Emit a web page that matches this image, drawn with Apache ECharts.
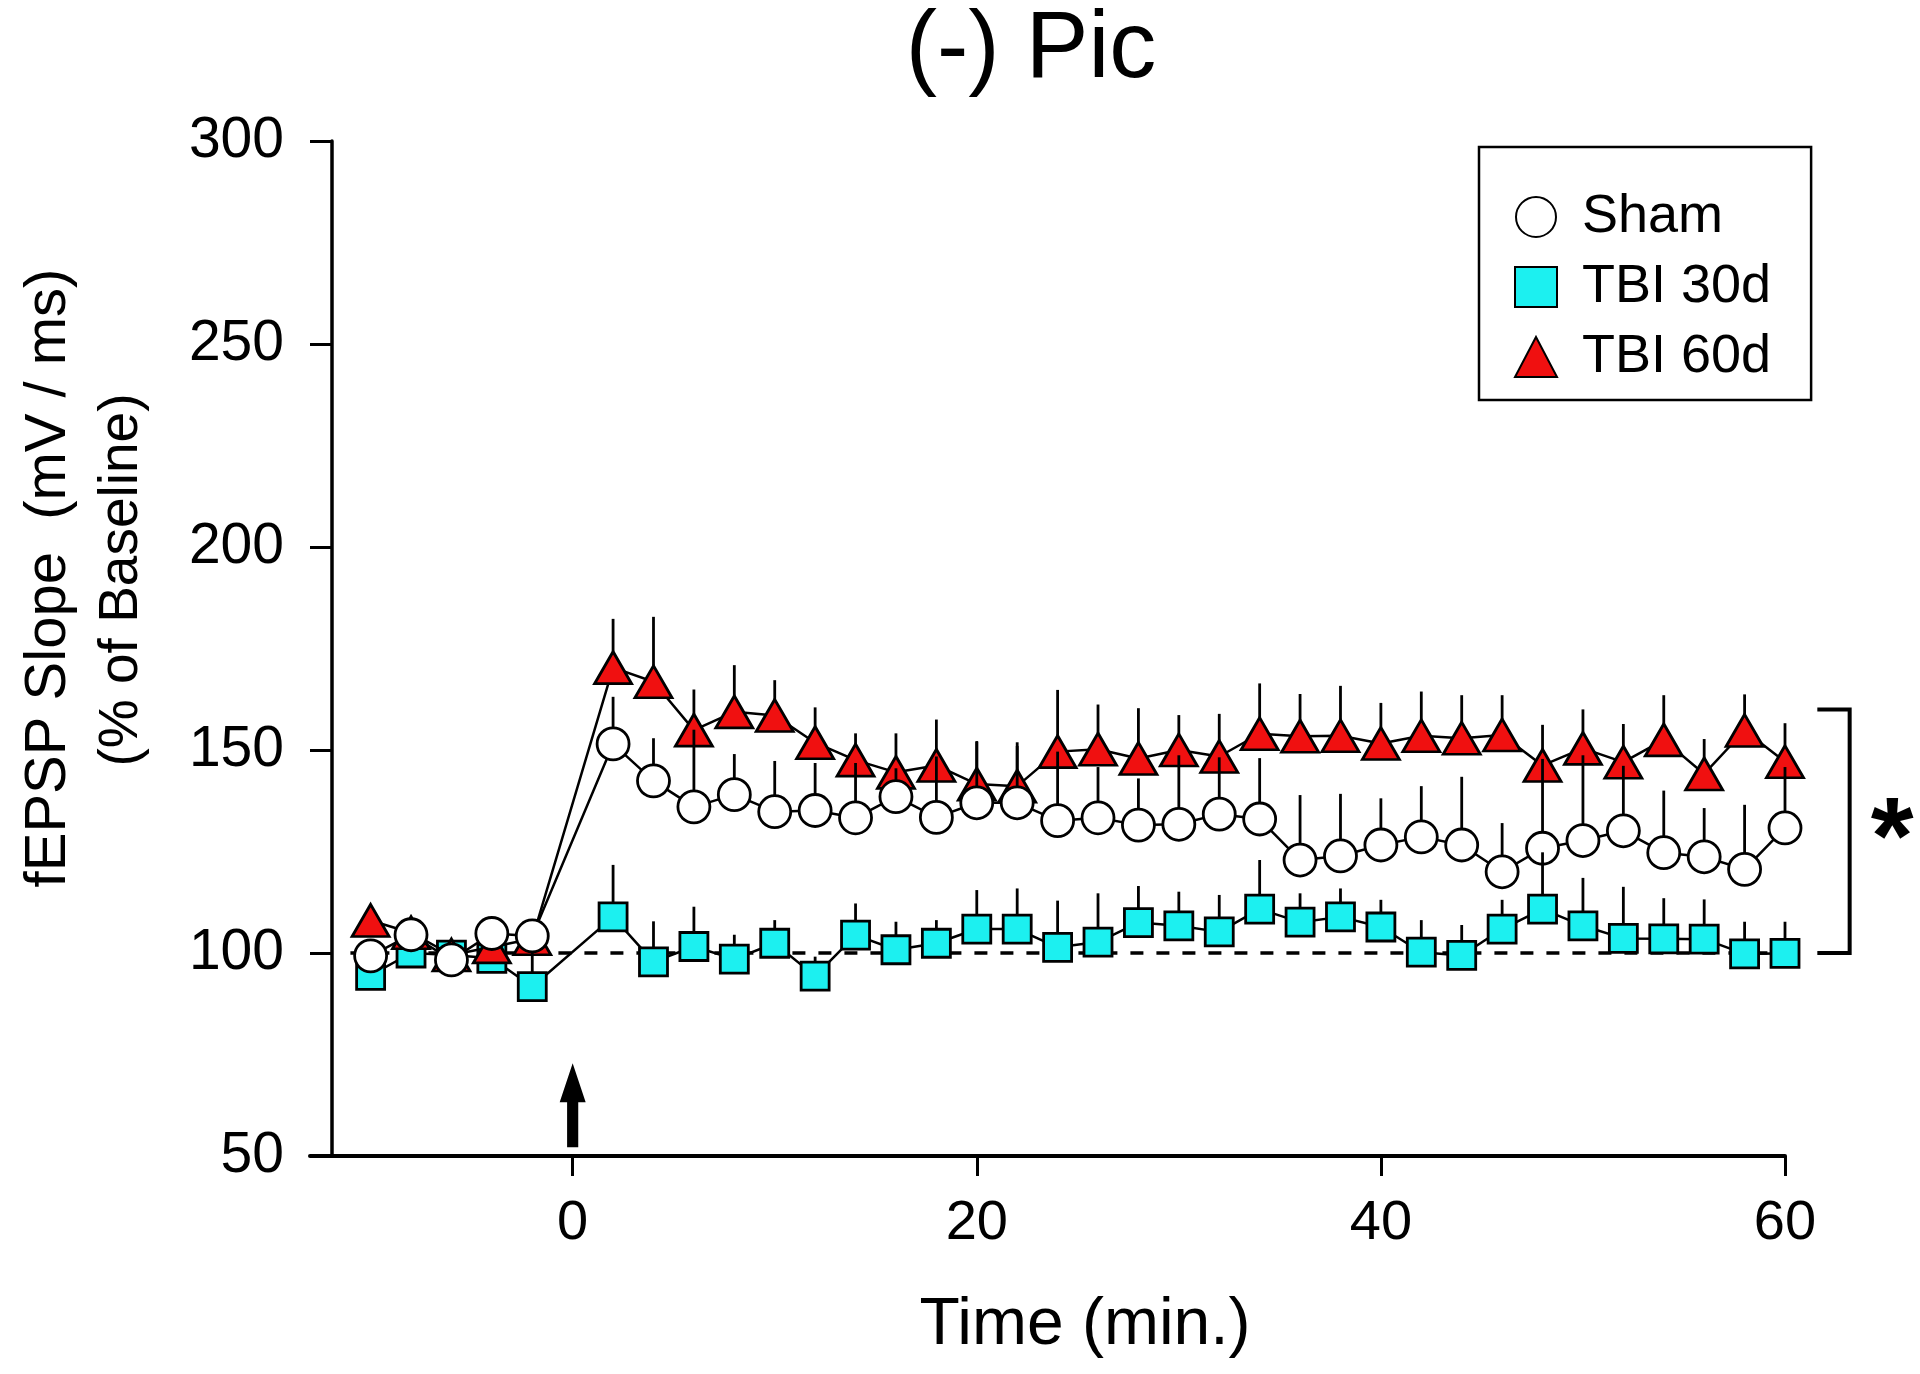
<!DOCTYPE html>
<html lang="en">
<head>
<meta charset="UTF-8">
<title>(-) Pic</title>
<script src="https://cdn.jsdelivr.net/npm/echarts@6.0.0/dist/echarts.min.js"></script>
<style>
  html, body { margin: 0; padding: 0; background: #fff; }
  #chart { width: 1920px; height: 1374px; }
</style>
</head>
<body>
<div id="chart"></div>
<script>
var FONT = '"Liberation Sans", Arial, sans-serif';

// time points (min)
var times = [-10, -8, -6, -4, -2, 2, 4, 6, 8, 10, 12, 14, 16, 18, 20, 22, 24, 26, 28, 30,
             32, 34, 36, 38, 40, 42, 44, 46, 48, 50, 52, 54, 56, 58, 60];

// Sham (mean, upper SEM)
var shamMean = [99.3, 104.5, 98.3, 104.8, 104.2, 151.5, 142.4, 136, 139, 134.8, 135.1, 133.3, 138.5, 133.4, 137, 137, 132.6, 133.3, 131.5, 131.7,
                134.2, 133, 122.9, 123.9, 126.6, 128.6, 126.6, 120, 125.8, 127.7, 130.1, 124.7, 123.7, 120.6, 130.8];
var shamErr  = [2, 2, 3, 2, 2, 11.6, 10.5, 19, 10, 12.5, 11.7, 13.5, 7, 15, 15, 14, 17, 12.5, 11.5, 17,
                14, 15, 16, 15.3, 11.5, 12.5, 16.8, 12, 22, 21, 16, 15.3, 12, 15.9, 15];

// TBI 30d
var tbi30Mean = [94.5, 100, 99.5, 98.7, 91.7, 108.9, 97.8, 101.6, 98.5, 102.4, 94.3, 104.4, 100.8, 102.4, 105.9, 105.9, 101.4, 102.7, 107.5, 106.7,
                 105.2, 110.8, 107.6, 108.9, 106.4, 100.2, 99.4, 105.9, 110.8, 106.7, 103.6, 103.5, 103.4, 99.8, 99.9];
var tbi30Err  = [2, 2, 2, 2, 8.8, 12.8, 10, 9.8, 6, 5.7, 4.8, 7.8, 6.9, 5.7, 9.6, 10, 11.5, 12, 9, 8.4,
                 9.1, 12.1, 7.1, 7, 6.7, 7.9, 7.5, 7.2, 14, 11.8, 12.7, 10, 9.8, 7.9, 7.8];

// TBI 60d
var tbi60Mean = [108, 105, 99.5, 101.5, 103.5, 170.3, 166.8, 154.9, 159.4, 158.5, 151.8, 147.5, 144.5, 146.2, 141.6, 141.1, 149.6, 150.2, 147.9, 150,
                 148.4, 154, 153.4, 153.5, 151.6, 153.5, 152.9, 153.7, 146.2, 150.4, 147, 152.5, 144.1, 154.8, 147.1];
var tbi60Err  = [2, 2, 2, 2, 2, 12, 16, 10, 11.5, 8.7, 8.7, 6.6, 9.6, 11.3, 10.6, 10.8, 15.2, 11, 12.4, 8.6,
                 10.5, 12.4, 10.4, 12.3, 10, 10.9, 10.6, 9.8, 10, 9.6, 9.4, 11, 8.6, 8.9, 9.5];

var xTicks = [0, 20, 40, 60];
var baseline = [[-11, 100], [60, 100]];
var bracket = [[61.6, 160], [63.2, 160], [63.2, 100], [61.6, 100]];
var starPoint = [65.3, 132];
var arrowPoint = [[0, 62.5]];

function pairs(means) {
  return times.map(function (t, i) { return [t, means[i]]; });
}

function errBars(name, means, errs, half, z) {
  return {
    type: 'custom',
    name: name,
    silent: true,
    z: z,
    encode: { x: 0, y: [1, 2] },
    data: times.map(function (t, i) { return [t, means[i], means[i] + errs[i]]; }),
    renderItem: function (params, api) {
      var p0 = api.coord([api.value(0), api.value(1)]);
      var p1 = api.coord([api.value(0), api.value(2)]);
      var y0 = p0[1] - half;
      if (p1[1] >= y0) return null;
      return {
        type: 'line',
        shape: { x1: p0[0], y1: y0, x2: p0[0], y2: p1[1] },
        style: { stroke: '#000', lineWidth: 2.8 }
      };
    }
  };
}

var chart = echarts.init(document.getElementById('chart'));

var option = {
  animation: false,
  backgroundColor: '#fff',
  title: {
    text: '(-) Pic',
    left: 1031,
    top: 4,
    padding: 0,
    textAlign: 'center',
    textStyle: { fontFamily: FONT, fontSize: 94, fontWeight: 'normal', color: '#000' }
  },
  grid: { left: 310, right: 135, top: 141, bottom: 218, containLabel: false, outerBoundsMode: 'none' },
  legend: {
    orient: 'vertical',
    left: 1479,
    top: 147,
    padding: [43, 40, 16, 35],
    itemGap: 16,
    itemWidth: 42,
    itemHeight: 40,
    borderColor: '#000',
    borderWidth: 2.5,
    selectedMode: false,
    textStyle: { fontFamily: FONT, fontSize: 54, color: '#000', padding: [0, 0, 0, 20] },
    data: [
      { name: 'Sham', icon: 'circle' },
      { name: 'TBI 30d', icon: 'rect' },
      { name: 'TBI 60d', icon: 'triangle' }
    ]
  },
  xAxis: {
    type: 'value',
    min: -13,
    max: 60,
    splitLine: { show: false },
    axisLine: { onZero: false, lineStyle: { color: '#000', width: 4 } },
    axisTick: { customValues: xTicks, length: 20, lineStyle: { color: '#000', width: 3 } },
    axisLabel: { customValues: xTicks, margin: 40, fontFamily: FONT, fontSize: 56, color: '#000' }
  },
  yAxis: {
    type: 'value',
    min: 50,
    max: 300,
    interval: 50,
    offset: -22,
    splitLine: { show: false },
    axisLine: { show: true, onZero: false, lineStyle: { color: '#000', width: 3.5 } },
    axisTick: { show: true, length: 22, lineStyle: { color: '#000', width: 3 } },
    axisLabel: { margin: 48, fontFamily: FONT, fontSize: 57, color: '#000' }
  },
  graphic: [
    {
      type: 'text', x: 49, y: 578, rotation: Math.PI / 2,
      style: { text: 'fEPSP Slope  (mV / ms)', fontFamily: FONT, fontSize: 58, fill: '#000', align: 'center', verticalAlign: 'middle' }
    },
    {
      type: 'text', x: 122, y: 580, rotation: Math.PI / 2,
      style: { text: '(% of Baseline)', fontFamily: FONT, fontSize: 55, fill: '#000', align: 'center', verticalAlign: 'middle' }
    },
    {
      type: 'text', x: 1085, y: 1326,
      style: { text: 'Time (min.)', fontFamily: FONT, fontSize: 66, fill: '#000', align: 'center', verticalAlign: 'middle' }
    }
  ],
  series: [
    {
      name: 'baseline', type: 'line', data: baseline, symbol: 'none', silent: true, z: 1,
      lineStyle: { color: '#000', width: 3.5, type: [13, 13] }
    },
    {
      // significance bracket and star, placed in data units right of the plot
      name: 'bracket', type: 'custom', silent: true, z: 1, clip: false,
      data: [0],
      renderItem: function (params, api) {
        var pts = bracket.map(function (p) { return api.coord(p); });
        var s = api.coord(starPoint);
        return {
          type: 'group',
          children: [
            { type: 'polyline', shape: { points: pts }, style: { stroke: '#000', lineWidth: 4, fill: null } },
            { type: 'text', x: s[0], y: s[1] + 20,
              style: { text: '*', fontFamily: FONT, fontSize: 110, fontWeight: 'bold', fill: '#000',
                       align: 'center', verticalAlign: 'middle' } }
          ]
        };
      }
    },
    {
      name: 'arrow', type: 'scatter', data: arrowPoint, silent: true, z: 2,
      symbol: 'path://M14,0 L28,39 L20,39 L20,84 L8,84 L8,39 L0,39 Z',
      symbolSize: [26, 84],
      itemStyle: { color: '#000', opacity: 1 }
    },
    {
      name: 'TBI 30d', type: 'line', data: pairs(tbi30Mean), z: 2,
      symbol: 'rect', symbolSize: 28,
      itemStyle: { color: '#1CF0F0', borderColor: '#000', borderWidth: 2.8 },
      lineStyle: { color: '#000', width: 2.5 },
      emphasis: { disabled: true }
    },
    {
      name: 'TBI 60d', type: 'line', data: pairs(tbi60Mean), z: 3,
      symbol: 'triangle', symbolSize: [37, 32],
      itemStyle: { color: '#F01010', borderColor: '#000', borderWidth: 2.8 },
      lineStyle: { color: '#000', width: 2.5 },
      emphasis: { disabled: true }
    },
    {
      name: 'Sham', type: 'line', data: pairs(shamMean), z: 4,
      symbol: 'circle', symbolSize: 32,
      itemStyle: { color: '#fff', borderColor: '#000', borderWidth: 2.8 },
      lineStyle: { color: '#000', width: 2.5 },
      emphasis: { disabled: true }
    },
    errBars('TBI 30d SEM', tbi30Mean, tbi30Err, 14, 5),
    errBars('TBI 60d SEM', tbi60Mean, tbi60Err, 16, 5),
    errBars('Sham SEM', shamMean, shamErr, 16, 5)
  ]
};

chart.setOption(option);
</script>
</body>
</html>
